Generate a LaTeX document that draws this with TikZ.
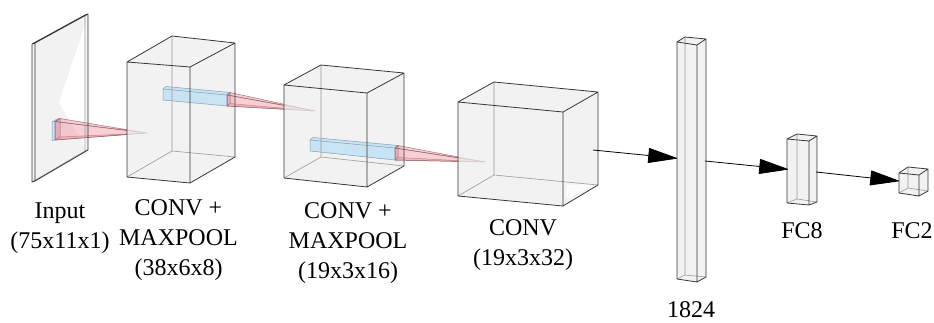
\documentclass[tikz,border=0pt]{standalone}
\usepackage{fontspec}
\setmainfont{Liberation Serif}
\usetikzlibrary{arrows.meta}
\definecolor{kblue}{RGB}{196,226,244}
\definecolor{kedge}{RGB}{130,160,180}
\definecolor{pred}{RGB}{240,150,160}
\definecolor{pedge}{RGB}{140,90,95}
\tikzset{
  boxfill/.style={fill=gray!14, fill opacity=0.75},
  edgefront/.style={draw=black!78, line width=0.8pt, line join=round},
  edgeback/.style={draw=black!40, line width=0.6pt},
  kernfill/.style={fill=kblue, fill opacity=0.9, draw=kedge, line width=0.5pt},
  pyrfill/.style={fill=pred, fill opacity=0.45, draw=pedge, draw opacity=0.8, line width=0.5pt, line join=round},
  arr/.style={draw=black, line width=0.8pt, -{Triangle[length=30pt,width=15pt,round]}},
  lbl/.style={align=center, anchor=base, font=\fontsize{24}{30}\selectfont, inner sep=0pt}
}
% cuboid: front TL, TR, BR, BL, back TL, TR, BR, BL
\newcommand\boxfillonly[8]{\fill[boxfill] (#1) -- (#5) -- (#6) -- (#7) -- (#3) -- (#4) -- cycle;}
\newcommand\boxedges[8]{%
  \draw[edgeback] (#8) -- (#5) (#8) -- (#7) (#8) -- (#4);
  \draw[edgefront] (#1) -- (#2) -- (#3) -- (#4) -- cycle (#1) -- (#5) -- (#6) -- (#7) -- (#3) (#2) -- (#6);}
\newcommand\kernel[8]{\filldraw[kernfill] (#1) -- (#5) -- (#6) -- (#7) -- (#3) -- (#4) -- cycle;
  \draw[kernfill, fill=none] (#1) -- (#2) -- (#3) (#2) -- (#6);}
% pyramid: base quad a b c d, apex e
\newcommand\pyramid[5]{\filldraw[pyrfill] (#1) -- (#2) -- (#3) -- (#4) -- cycle;
  \filldraw[pyrfill] (#1) -- (#2) -- (#5) -- cycle;
  \filldraw[pyrfill] (#4) -- (#3) -- (#5) -- cycle;
  \filldraw[pyrfill] (#1) -- (#4) -- (#5) -- cycle;}
\begin{document}
\begin{tikzpicture}[x=1pt, y=-1pt]
\useasboundingbox (0,0) rectangle (934,322);
% ---- input
\boxfillonly{32,44}{35,43}{35,181}{32,182}{85,15}{88,14}{88,150}{85,151}
\fill[white] (86,22) -- (59,102) -- (86,149) -- cycle;
\kernel{52,122}{55,121.5}{55,140}{52,140.5}{57,119}{60,118.5}{60,137}{57,137.5}
\pyramid{55,121.5}{60,118.5}{60,137}{55,140}{147,133}
\boxedges{32,44}{35,43}{35,181}{32,182}{85,15}{88,14}{88,150}{85,151}
% ---- conv1
\boxfillonly{127,62}{190,67}{190,183}{127,177}{172,36}{235,43}{235,157}{172,151}
\kernel{163,89}{227,95}{227,106}{163,100}{166,86.5}{230,92.5}{230,103.5}{166,97.5}
\pyramid{227,95}{230,92.5}{230,103.5}{227,106}{315,111}
\boxedges{127,62}{190,67}{190,183}{127,177}{172,36}{235,43}{235,157}{172,151}
% ---- conv2
\boxfillonly{284,85}{367,93}{367,187}{284,178}{321,65}{404,73}{404,166}{321,157}
\kernel{310,140}{395,148}{395,160}{310,151}{313,137.5}{398,145.5}{398,157.5}{313,148.5}
\pyramid{395,148}{398,145.5}{398,157.5}{395,160}{485,162}
\boxedges{284,85}{367,93}{367,187}{284,178}{321,65}{404,73}{404,166}{321,157}
% ---- conv3
\boxfillonly{458,102}{563,112}{563,206}{458,196}{494,82}{598,92}{598,185}{494,175}
\fill[white, opacity=0.8] (566,185) -- (597,184) -- (566,199) -- cycle;
\boxedges{458,102}{563,112}{563,206}{458,196}{494,82}{598,92}{598,185}{494,175}
% ---- dense 1824
\boxfillonly{677,42}{697,45}{697,282}{677,279}{685,37}{706,39}{706,277}{685,275}
\boxedges{677,42}{697,45}{697,282}{677,279}{685,37}{706,39}{706,277}{685,275}
% ---- FC8
\boxfillonly{787,139}{809,141}{809,205}{787,203}{797,134}{817,136}{817,202}{797,199}
\boxedges{787,139}{809,141}{809,205}{787,203}{797,134}{817,136}{817,202}{797,199}
% ---- FC2
\boxfillonly{899,173}{919,175}{919,196}{899,193}{908,167}{928,169}{928,191}{908,188}
\boxedges{899,173}{919,175}{919,196}{899,193}{908,167}{928,169}{928,191}{908,188}
% ---- connectors
\coordinate (c3out) at (593,150);
\coordinate (barin) at (677,158.3);
\coordinate (barout) at (705,161);
\coordinate (fc8in) at (788,169.3);
\coordinate (fc8out) at (816,172);
\coordinate (fc2in) at (899,181);
\draw[arr] (c3out) -- (barin);
\draw[arr] (barout) -- (fc8in);
\draw[arr] (fc8out) -- (fc2in);
% ---- labels (anchor = baseline of last line)
\node[lbl] (lin) at (60,248) {Input\\(75x11x1)};
\node[lbl] (lc1) at (178.5,275) {CONV +\\MAXPOOL\\(38x6x8)};
\node[lbl] (lc2) at (348,278) {CONV +\\MAXPOOL\\(19x3x16)};
\node[lbl] (lc3) at (523,265) {CONV\\(19x3x32)};
\node[lbl] (lbar) at (691,317) {1824};
\node[lbl] (lfc8) at (802,238) {FC8};
\node[lbl] (lfc2) at (912,238) {FC2};
\end{tikzpicture}
\end{document}
